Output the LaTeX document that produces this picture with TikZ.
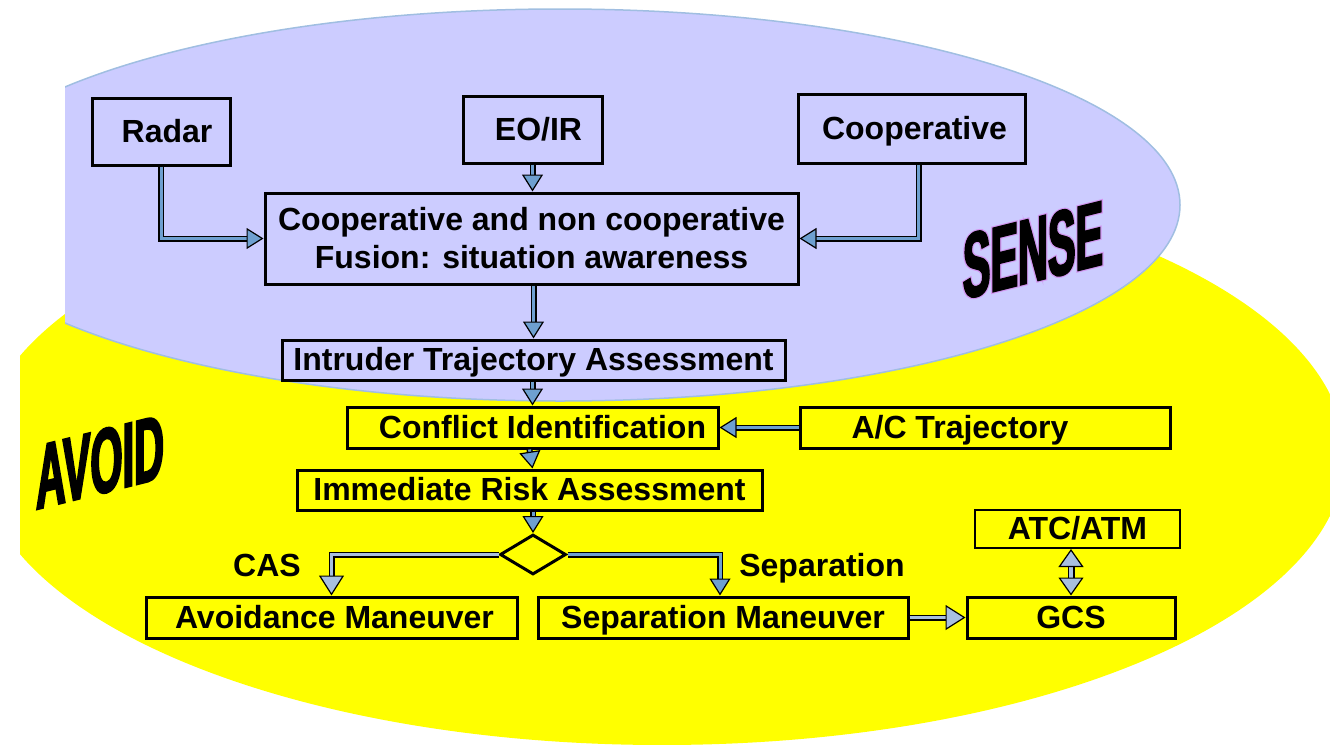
\documentclass[tikz,border=0pt]{standalone}
\usepackage{fontspec}
\setmainfont{Liberation Sans}
% condensed heavy lettering for the two region titles
\newfontfamily\wordart{Liberation Sans}[FakeStretch=0.45,FakeBold=2]
\newfontfamily\wordartrim{Liberation Sans}[FakeStretch=0.45,FakeBold=4.5]
\usetikzlibrary{arrows.meta,shapes.geometric}

\definecolor{senseblue}{RGB}{204,204,255}
\definecolor{senseedge}{RGB}{160,190,225}
\definecolor{avoidyellow}{RGB}{255,255,0}
\definecolor{tipdark}{RGB}{110,160,208}
\definecolor{tiplight}{RGB}{168,192,224}
\definecolor{glow}{RGB}{210,150,240}

\begin{document}
\begin{tikzpicture}[x=1pt,y=-1pt,
  box/.style={draw=black, line width=3pt, rectangle, inner sep=0pt,
    text height=22pt, text depth=1pt,
    font=\fontsize{32}{38}\selectfont\bfseries, align=center},
  sensebox/.style={box, fill=senseblue},
  avoidbox/.style={box, fill=avoidyellow},
  label/.style={inner sep=0pt, text height=22pt, text depth=1pt,
    font=\fontsize{32}{38}\selectfont\bfseries},
  flow/.style={draw=#1, line width=3pt,
    -{Triangle[length=17pt,width=21pt,color=black,fill=#1,line width=1.2pt]},
    preaction={draw=black, line width=6pt, -, shorten >=14pt}},
  flowbig/.style={draw=#1, line width=3pt,
    -{Triangle[length=20pt,width=25pt,color=black,fill=#1,line width=1.2pt]},
    preaction={draw=black, line width=6pt, -, shorten >=17pt}},
  flowboth/.style={draw=#1, line width=4pt,
    {Triangle[length=18pt,width=25pt,color=black,fill=#1,line width=1.2pt]}-{Triangle[length=18pt,width=25pt,color=black,fill=#1,line width=1.2pt]},
    preaction={draw=black, line width=7pt, -, shorten >=15pt, shorten <=15pt}},
  title/.style={inner sep=0pt, transform shape, yslant=0.25,
    font=\fontsize{92}{92}\selectfont\bfseries}
]
\useasboundingbox (0,0) rectangle (1330,744);

% AVOID region
\begin{scope}
  \clip (20,0) rectangle (1330,744);
  \fill[avoidyellow] (662,455) ellipse [x radius=683pt, y radius=290pt];
\end{scope}
% SENSE region
\begin{scope}
  \clip (65,0) rectangle (1330,744);
  \filldraw[fill=senseblue, draw=senseedge, line width=1.5pt]
    (560,205) ellipse [x radius=620pt, y radius=196pt];
\end{scope}

% region titles; the SENSE title sits on a violet rim
\node[title, text=glow] (senserim) at (1033,250) {\wordartrim SENSE};
\node[title] (sense) at (1033,250) {\wordart SENSE};
\node[title] (avoid) at (100,462) {\wordart AVOID};

% sensing chain
\node[sensebox, minimum width=138pt, minimum height=67pt] (radar) at (161,131.5) {\hspace*{12pt}Radar};
\node[sensebox, minimum width=139pt, minimum height=67pt] (eoir) at (532.5,129.5) {\hspace*{12pt}EO/IR};
\node[sensebox, minimum width=227pt, minimum height=69pt] (coop) at (911.5,128.5) {\hspace*{6pt}Cooperative};
\node[sensebox, text height=61pt, minimum width=533pt, minimum height=91pt] (fusion) at (531.5,238.5)
  {Cooperative and non cooperative\\Fusion: situation awareness};
\node[sensebox, minimum width=503pt, minimum height=40pt] (intruder) at (533.5,360) {Intruder Trajectory Assessment};

% avoidance chain
\node[avoidbox, minimum width=371pt, minimum height=41pt] (conflict) at (532.5,427.5) {\hspace*{20pt}Conflict Identification};
\node[avoidbox, minimum width=370pt, minimum height=41pt] (actraj) at (985,427.5) {A/C Trajectory\hspace*{50pt}};
\node[avoidbox, minimum width=465pt, minimum height=40pt] (risk) at (529.5,490) {Immediate Risk Assessment};
\node[diamond, draw=black, line width=3pt, fill=avoidyellow, inner sep=0pt,
  minimum width=66pt, minimum height=40pt, aspect=1.65] (choice) at (533,554.5) {};
\node[avoidbox, minimum width=371pt, minimum height=41pt] (avoidman) at (331.5,617.5) {\hspace*{6pt}Avoidance Maneuver};
\node[avoidbox, minimum width=370pt, minimum height=41pt] (sepman) at (723,617.5) {Separation Maneuver};
\node[avoidbox, minimum width=208pt, minimum height=41pt] (gcs) at (1071,617.5) {GCS};
\node[avoidbox, line width=2pt, minimum width=205pt, minimum height=38pt] (atc) at (1077.5,529) {ATC/ATM};

\node[label] (cas) at (267,566) {CAS};
\node[label] (seplabel) at (822,566) {Separation};

% connectors
\draw[flow=tipdark] (radar.south) |- (fusion.west);
\draw[flow=tipdark] (eoir.south) -- (eoir.south |- fusion.north);
\draw[flow=tipdark] ([xshift=7pt]coop.south) |- (fusion.east);
\draw[flow=tipdark] (fusion.south -| intruder.north) -- (intruder.north);
\draw[flow=tipdark] (intruder.south -| conflict.north) -- (conflict.north);
\draw[flow=tipdark] (actraj.west) -- (conflict.east);
\draw[flow=tipdark] (conflict.south -| risk.north) -- ([xshift=3pt]risk.north);
\draw[flow=tipdark] ([xshift=3.5pt]risk.south) -- (choice.north);
\draw[flowbig=tiplight] (choice.west) -| (avoidman.north);
\draw[flow=tipdark] (choice.east) -| ([xshift=-3pt]sepman.north);
\draw[flowbig=tiplight] (sepman.east) -- (gcs.west);
\draw[flowboth=tiplight] (atc.south -| gcs.north) -- (gcs.north);
\end{tikzpicture}
\end{document}
